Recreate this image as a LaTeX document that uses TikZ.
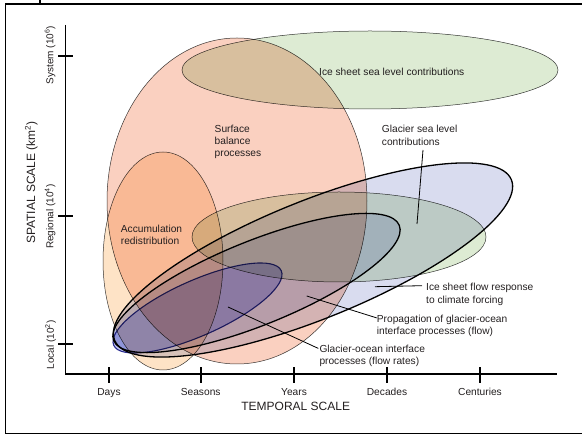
\documentclass[tikz,border=0pt]{standalone}
\usepackage{fontspec}
\setmainfont{Liberation Sans}
\definecolor{salmonfill}{HTML}{FAD0C0}
\definecolor{peachfill}{HTML}{FEE3C6}
\definecolor{greenfill}{HTML}{DDEBD3}
\definecolor{bluefill}{HTML}{D9DCEF}
\definecolor{flowfill}{HTML}{DDE0F2}
\definecolor{ratefill}{HTML}{C3C6F5}
\definecolor{outlinegray}{HTML}{3A3A3A}
\definecolor{navy}{HTML}{2E3192}
\definecolor{txt}{HTML}{231F20}
\begin{document}
\begin{tikzpicture}[x=1pt,y=-1pt,
  region/.style={draw=outlinegray, line width=0.5pt},
  boldrim/.style={draw=black, line width=1.3pt},
  lbl/.style={font=\fontsize{10.2}{12.2}\selectfont, text=txt, inner sep=0pt, anchor=north west, align=left},
  ticklbl/.style={font=\fontsize{10.2}{12}\selectfont, text=txt, inner sep=0pt, anchor=base},
  ylbl/.style={font=\fontsize{10}{12}\selectfont, text=txt, inner sep=0pt, anchor=base, rotate=90},
  axtitle/.style={font=\fontsize{12}{14}\selectfont, text=txt, inner sep=0pt, anchor=base},
  leader/.style={draw=black, line width=0.8pt},
  axis/.style={draw=black, line width=1.2pt},
  tick/.style={draw=black, line width=1.7pt}]
\useasboundingbox (0,0) rectangle (582,435);

% outer frame
\draw[line width=1.3pt] (40,0) -- (40,4);
\draw[line width=1.3pt] (582,4) -- (5.5,4) -- (5.5,433.5) -- (582,433.5);

% overlapping scale regions
\begin{scope}[blend mode=multiply]
  \path[region, fill=salmonfill] (237,201) ellipse [x radius=130pt, y radius=163pt];
  \path[region, fill=peachfill] (163,261) ellipse [x radius=60pt, y radius=109pt];
  \path[region, fill=greenfill] (370,70) ellipse [x radius=188pt, y radius=39pt];
  \path[region, fill=greenfill] (339,237) ellipse [x radius=147pt, y radius=45pt];
  \path[boldrim, fill=bluefill, rotate around={22:(313,260)}] (313,260) ellipse [x radius=214pt, y radius=59pt];
  \path[boldrim, fill=flowfill, rotate around={22:(256.5,283)}] (256.5,283) ellipse [x radius=154pt, y radius=42pt];
  \path[draw=navy, line width=1.1pt, fill=ratefill, rotate around={24:(197.5,308)}] (197.5,308) ellipse [x radius=91.7pt, y radius=27.6pt];
\end{scope}

% axes
\coordinate (origin) at (65.7,374);
\coordinate (ytop) at (65.7,25);
\coordinate (xend) at (557,374);
\draw[axis] (ytop) -- (origin) -- (xend);
\foreach \yy in {56,216,344} \draw[tick] (58,\yy) -- (73,\yy);
\foreach \xx in {109,200.7,294,387,480} \draw[tick] (\xx,367.5) -- (\xx,383);

% axis labels
\node[ticklbl] (days) at (109,396) {Days};
\node[ticklbl] (seasons) at (200.7,396) {Seasons};
\node[ticklbl] (years) at (294,396) {Years};
\node[ticklbl] (decades) at (387,396) {Decades};
\node[ticklbl] (centuries) at (480,396) {Centuries};
\node[axtitle] (xtitle) at (295.7,410.7) {TEMPORAL SCALE};
\node[ylbl] (system) at (53.3,55) {System (10\textsuperscript{6})};
\node[ylbl] (regional) at (53.3,216.7) {Regional (10\textsuperscript{4})};
\node[ylbl] (local) at (53.8,345) {Local (10\textsuperscript{2})};
\node[axtitle, rotate=90] (ytitle) at (35,182.5) {SPATIAL SCALE (km\textsuperscript{2})};

% region labels
\node[lbl] (icesea) at (319,68.3) {Ice sheet sea level contributions};
\node[lbl] (glsea) at (381.7,125.3) {Glacier sea level\\contributions};
\node[lbl] (surf) at (214.5,124.6) {Surface\\balance\\processes};
\node[lbl] (accum) at (120.7,224.9) {Accumulation\\redistribution};
\node[lbl] (isflow) at (426,283.3) {Ice sheet flow response\\to climate forcing};
\node[lbl] (prop) at (376.7,314.9) {Propagation of glacier-ocean\\interface processes (flow)};
\node[lbl] (gorate) at (319.3,344.9) {Glacier-ocean interface\\processes (flow rates)};

% leader lines
\coordinate (glsea-top) at (423,150);
\coordinate (glsea-pt) at (417,224);
\coordinate (isflow-pt) at (375,286.7);
\coordinate (prop-pt) at (306.7,296);
\coordinate (gorate-pt) at (228,307);
\draw[leader] (glsea-pt) -- (glsea-top);
\draw[leader] (isflow-pt) -- ([shift={(-4pt,-2.4pt)}]isflow.north west);
\draw[leader] (prop-pt) -- ([shift={(0pt,-3pt)}]prop.north west);
\draw[leader] (gorate-pt) -- ([shift={(-1pt,-3.5pt)}]gorate.north west);
\end{tikzpicture}
\end{document}
